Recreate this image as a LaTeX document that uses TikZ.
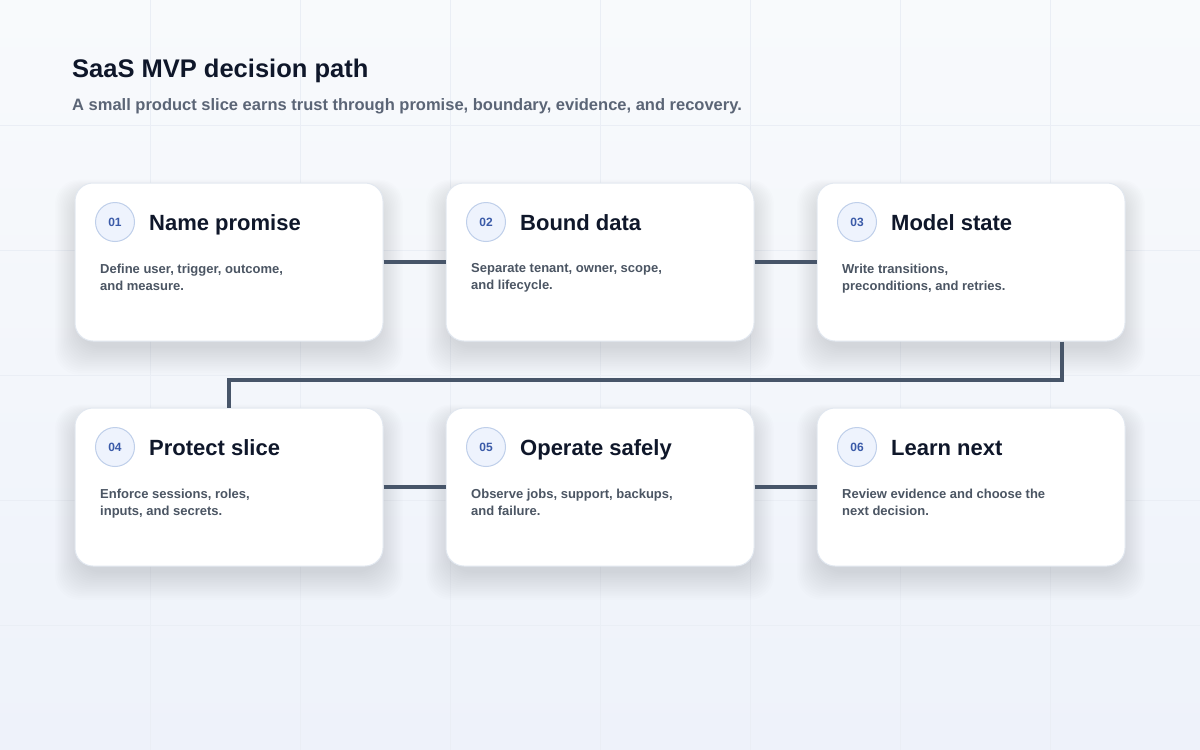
\documentclass[tikz,border=0pt]{standalone}
\usepackage{fontspec}
\setmainfont{Liberation Sans}
\usetikzlibrary{calc}
\definecolor{bgA}{HTML}{F8FAFC}
\definecolor{bgB}{HTML}{EEF2FA}
\definecolor{gridc}{HTML}{EAEEF5}
\definecolor{ink}{HTML}{0F172A}
\definecolor{muted}{HTML}{4B5563}
\definecolor{sub}{HTML}{5B6576}
\definecolor{cardline}{HTML}{E2E8F0}
\definecolor{numfill}{HTML}{EEF3FD}
\definecolor{numline}{HTML}{BFCFEA}
\definecolor{numtext}{HTML}{3A5AA8}
\definecolor{connc}{HTML}{475569}
\definecolor{shadc}{HTML}{334155}
\tikzset{
  card/.style={draw=cardline, fill=white, line width=1pt, rounded corners=18pt,
    minimum width=308pt, minimum height=158pt, inner sep=0pt},
  shadowlayer/.style={fill=shadc, fill opacity=0.0085, rounded corners=24pt},
  numdot/.style={circle, draw=numline, fill=numfill, line width=1pt, minimum size=39pt,
    inner sep=0pt, text=numtext, font=\fontsize{12}{14}\selectfont\bfseries},
  ttl/.style={anchor=base west, inner sep=0pt, text=ink, font=\fontsize{22}{26}\selectfont\bfseries},
  desc/.style={anchor=north west, inner sep=0pt, align=left, text=muted,
    font=\fontsize{13}{17}\selectfont\bfseries},
  conn/.style={draw=connc, line width=4pt, line cap=butt, line join=miter},
}
\begin{document}
\begin{tikzpicture}[x=1pt,y=-1pt]
\useasboundingbox (0,0) rectangle (1200,750);
\shade[left color=bgA, right color=bgB, shading angle=0] (0,0) rectangle (1200,750);
\shade[top color=bgA, bottom color=bgB, opacity=0.5] (0,0) rectangle (1200,750);
\foreach \gx in {150,300,...,1050} \draw[gridc, line width=0.6pt] (\gx,0) -- (\gx,750);
\foreach \gy in {125,250,...,625} \draw[gridc, line width=0.6pt] (0,\gy) -- (1200,\gy);

\node[anchor=base west, inner sep=0pt, text=ink, font=\fontsize{25.5}{30}\selectfont\bfseries]
  (title) at (72,77) {SaaS MVP decision path};
\node[anchor=base west, inner sep=0pt, text=sub, font=\fontsize{16.5}{20}\selectfont\bfseries]
  (subtitle) at (72,110) {A small product slice earns trust through promise, boundary, evidence, and recovery.};

\foreach \i/\cx/\cy/\t/\d in {
  1/229/262/{Name promise}/{Define user, trigger, outcome,\\and measure.},
  2/600/262/{Bound data}/{Separate tenant, owner, scope,\\and lifecycle.},
  3/971/262/{Model state}/{Write transitions,\\preconditions, and retries.},
  4/229/487/{Protect slice}/{Enforce sessions, roles,\\inputs, and secrets.},
  5/600/487/{Operate safely}/{Observe jobs, support, backups,\\and failure.},
  6/971/487/{Learn next}/{Review evidence and choose the\\next decision.}}{
  \foreach \k in {1,...,16}{
    \fill[shadowlayer] (\cx-150-1.5*\k,\cy-68-0.9*\k) rectangle (\cx+150+1.5*\k,\cy+84+1.8*\k);
  }
  \node[card] (c\i) at (\cx,\cy) {};
  \node[numdot] (n\i) at (\cx-114,\cy-40) {0\i};
  \node[ttl] (t\i) at (\cx-80,\cy-32) {\t};
  \node[desc] (d\i) at (\cx-129,\cy+1.5) {\d};
}

\draw[conn] (c1.east) -- (c2.west);
\draw[conn] (c2.east) -- (c3.west);
\draw[conn] (c4.east) -- (c5.west);
\draw[conn] (c5.east) -- (c6.west);
\coordinate (turn) at ([xshift=91pt]c3.south);
\draw[conn] (turn) -- ++(0,38) -| (c4.north);
\end{tikzpicture}
\end{document}
